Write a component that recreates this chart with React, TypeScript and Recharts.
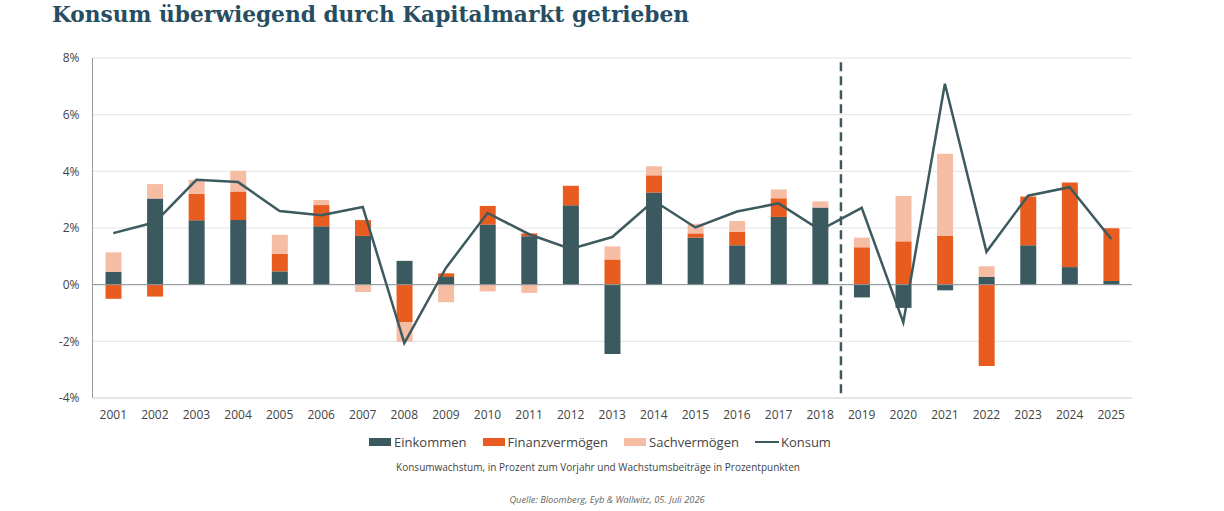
import React from "react";
import {
  ComposedChart,
  Bar,
  Line,
  XAxis,
  YAxis,
  CartesianGrid,
  ReferenceLine,
} from "recharts";

const years = [
  "2001", "2002", "2003", "2004", "2005", "2006", "2007", "2008", "2009", "2010",
  "2011", "2012", "2013", "2014", "2015", "2016", "2017", "2018", "2019", "2020",
  "2021", "2022", "2023", "2024", "2025",
];
const einkommen = [
  0.45, 3.04, 2.27, 2.28, 0.47, 2.06, 1.72, 0.84, 0.27, 2.12,
  1.71, 2.8, -2.45, 3.25, 1.66, 1.39, 2.39, 2.72, -0.45, -0.82,
  -0.2, 0.27, 1.39, 0.62, 0.13,
];
const finanz = [
  -0.5, -0.42, 0.94, 1.01, 0.62, 0.75, 0.56, -1.32, 0.13, 0.66,
  0.1, 0.69, 0.89, 0.61, 0.15, 0.48, 0.66, 0.0, 1.32, 1.53,
  1.73, -2.87, 1.72, 2.99, 1.86,
];
const sach = [
  0.69, 0.51, 0.49, 0.73, 0.67, 0.18, -0.26, -0.7, -0.62, -0.24,
  -0.29, 0.0, 0.46, 0.32, 0.34, 0.38, 0.31, 0.22, 0.34, 1.6,
  2.89, 0.38, 0.0, 0.0, 0.0,
];
const konsum = [
  1.82, 2.2, 3.7, 3.62, 2.6, 2.45, 2.74, -2.06, 0.59, 2.53,
  1.78, 1.26, 1.68, 2.96, 2.02, 2.58, 2.87, 1.93, 2.71, -1.33,
  7.09, 1.16, 3.14, 3.44, 1.61,
];
const yTicks = [-4, -2, 0, 2, 4, 6, 8];

const data = years.map((y, i) => ({
  year: y,
  Einkommen: einkommen[i],
  Finanzvermögen: finanz[i],
  Sachvermögen: sach[i],
  Konsum: konsum[i],
}));

const C_EIN = "#3b5a60";
const C_FIN = "#e85d1f";
const C_SACH = "#f6bda5";
const C_LINE = "#3d5a5f";
const FONT = "'Open Sans', 'Noto Sans', sans-serif";

const legendItems = [
  { name: "Einkommen", color: C_EIN, type: "rect" },
  { name: "Finanzvermögen", color: C_FIN, type: "rect" },
  { name: "Sachvermögen", color: C_SACH, type: "rect" },
  { name: "Konsum", color: C_LINE, type: "line" },
];

export default function App() {
  return (
    <div
      style={{
        position: "absolute",
        left: 0,
        top: 0,
        width: 1224,
        height: 511,
        background: "#fff",
        fontFamily: FONT,
      }}
    >
      <div
        style={{
          position: "absolute",
          left: 52,
          top: 2,
          fontFamily: "'DejaVu Serif', serif",
          fontWeight: "bold",
          fontSize: 21.7,
          color: "#264d62",
          whiteSpace: "nowrap",
        }}
      >
        Konsum überwiegend durch Kapitalmarkt getrieben
      </div>
      <div style={{ position: "absolute", left: 0, top: 0 }}>
        <ComposedChart
          width={1224}
          height={430}
          data={data}
          stackOffset="sign"
          margin={{ top: 58, right: 92, bottom: 0, left: 0 }}
          barCategoryGap={0}
        >
          <CartesianGrid vertical={false} stroke="#e3e3e3" strokeWidth={1} />
          <XAxis
            dataKey="year"
            height={32}
            tickLine={false}
            axisLine={{ stroke: "#d8d8d8" }}
            tick={{ fontSize: 12, fill: "#444", fontFamily: FONT }}
            interval={0}
            tickMargin={6}
          />
          <YAxis
            width={92.5}
            domain={[-4, 8]}
            ticks={yTicks}
            tickFormatter={(v: number) => `${v}%`}
            tickLine={false}
            axisLine={{ stroke: "#9a9a9a" }}
            tick={{ fontSize: 12, fill: "#444", fontFamily: FONT }}
            tickMargin={7}
          />
          <ReferenceLine y={0} stroke="#8a9396" strokeWidth={1} />
          <Bar dataKey="Einkommen" stackId="a" fill={C_EIN} barSize={16} isAnimationActive={false} />
          <Bar dataKey="Finanzvermögen" stackId="a" fill={C_FIN} barSize={16} isAnimationActive={false} />
          <Bar dataKey="Sachvermögen" stackId="a" fill={C_SACH} barSize={16} isAnimationActive={false} />
          <Line
            type="linear"
            dataKey="Konsum"
            stroke={C_LINE}
            strokeWidth={2.5}
            dot={false}
            activeDot={false}
            isAnimationActive={false}
          />
          <ReferenceLine
            segment={[
              { x: "2018", y: 7.85 },
              { x: "2018", y: -4 },
            ]}
            position="end"
            stroke={C_LINE}
            strokeWidth={2.5}
            strokeDasharray="9 5"
          />
        </ComposedChart>
      </div>
      <div
        style={{
          position: "absolute",
          left: 0,
          width: 1200,
          top: 433,
          display: "flex",
          justifyContent: "center",
          gap: 16,
          fontSize: 13,
          color: "#444",
        }}
      >
        {legendItems.map((it) => (
          <div key={it.name} style={{ display: "flex", alignItems: "center" }}>
            {it.type === "rect" ? (
              <span
                style={{
                  display: "inline-block",
                  width: 22,
                  height: 8,
                  background: it.color,
                  marginRight: 3,
                }}
              />
            ) : (
              <span
                style={{
                  display: "inline-block",
                  width: 24,
                  height: 2,
                  background: it.color,
                  marginRight: 2,
                }}
              />
            )}
            <span>{it.name}</span>
          </div>
        ))}
      </div>
      <div
        style={{
          position: "absolute",
          left: 0,
          width: 1196,
          top: 460,
          textAlign: "center",
          fontSize: 10,
          color: "#444",
        }}
      >
        Konsumwachstum, in Prozent zum Vorjahr und Wachstumsbeiträge in Prozentpunkten
      </div>
      <div
        style={{
          position: "absolute",
          left: 0,
          width: 1214,
          top: 493,
          textAlign: "center",
          fontSize: 9.3,
          fontStyle: "italic",
          color: "#666",
        }}
      >
        Quelle: Bloomberg, Eyb &amp; Wallwitz, 05. Juli 2026
      </div>
    </div>
  );
}
